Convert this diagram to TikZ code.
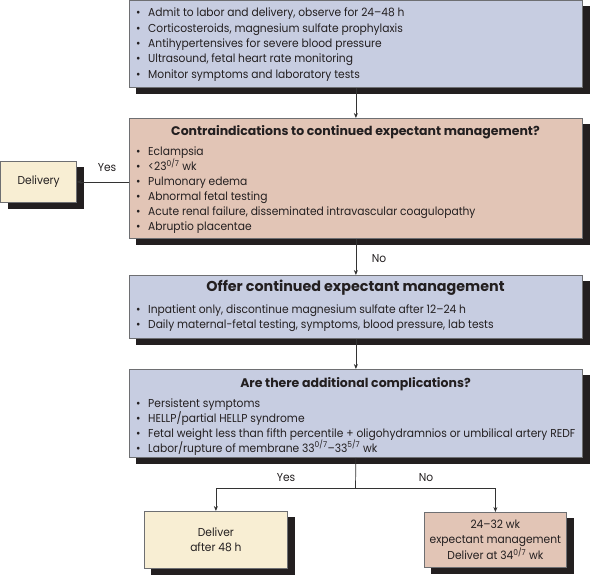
\documentclass[tikz,border=0pt]{standalone}
\usepackage{fontspec}
\setmainfont{Poppins}
\newfontfamily\bodyfont{Poppins}[FakeStretch=0.93]
\usetikzlibrary{arrows.meta,backgrounds}
\definecolor{bluefill}{HTML}{C7CDE1}
\definecolor{salmonfill}{HTML}{E2C5B6}
\definecolor{creamfill}{HTML}{F8EED3}
\definecolor{shadowc}{HTML}{231F20}
\definecolor{edgec}{HTML}{6E6F72}
\definecolor{linec}{HTML}{333333}
\definecolor{textc}{HTML}{231F20}
\tikzset{
  box/.style={draw=edgec, line width=0.8pt, inner sep=0pt, anchor=north west},
  bluebox/.style={box, fill=bluefill},
  salmonbox/.style={box, fill=salmonfill},
  creambox/.style={box, fill=creamfill},
  shadowfill/.style={fill=shadowc},
  txt/.style={anchor=base west, inner sep=0pt, text=textc, font=\bodyfont\fontsize{11.5}{15}\selectfont},
  ttl/.style={anchor=base, inner sep=0pt, text=textc, font=\fontsize{12.5}{15}\selectfont\bfseries},
  lbl/.style={inner sep=0pt, text=textc, font=\bodyfont\fontsize{11.5}{15}\selectfont},
  conn/.style={draw=linec, line width=0.7pt},
  arr/.style={conn, -{Stealth[length=5pt,width=4pt]}},
}
\newcommand{\bul}{\makebox[12pt][l]{•}}
\newcommand{\boxshadow}[1]{\fill[shadowfill] ([shift={(7,6)}]#1.north west) rectangle ([shift={(7,6)}]#1.south east);}
\begin{document}
\begin{tikzpicture}[x=1pt,y=-1pt]
\useasboundingbox (0,0) rectangle (590,575);
% boxes
\node[bluebox, minimum width=453pt, minimum height=86.5pt] (b1) at (129,0.5) {};
\node[salmonbox, minimum width=453pt, minimum height=120pt] (b2) at (129,118) {};
\node[creambox, minimum width=75.5pt, minimum height=41pt, lbl] (del) at (0.5,161) {Delivery};
\node[bluebox, minimum width=453pt, minimum height=63pt] (b3) at (129,275) {};
\node[bluebox, minimum width=453pt, minimum height=88pt] (b4) at (129,369) {};
\node[creambox, minimum width=143pt, minimum height=57pt, lbl, align=center] (dl) at (144,511) {Deliver\\after 48 h};
\node[salmonbox, minimum width=142pt, minimum height=55pt, lbl, align=center] (dr) at (424,512) {24–32 wk\\expectant management\\Deliver at 34\textsuperscript{0/7} wk};
% shadows
\begin{pgfonlayer}{background}
\boxshadow{b1}
\boxshadow{b2}
\boxshadow{del}
\boxshadow{b3}
\boxshadow{b4}
\boxshadow{dl}
\boxshadow{dr}
\end{pgfonlayer}
% box 1 text
\node[txt] (t11) at (136,17) {\bul Admit to labor and delivery, observe for 24–48 h};
\node[txt] (t12) at (136,32.3) {\bul Corticosteroids, magnesium sulfate prophylaxis};
\node[txt] (t13) at (136,47.6) {\bul Antihypertensives for severe blood pressure};
\node[txt] (t14) at (136,62.9) {\bul Ultrasound, fetal heart rate monitoring};
\node[txt] (t15) at (136,78.2) {\bul Monitor symptoms and laboratory tests};
% box 2 text
\node[ttl] (t20) at (355.5,136) {Contraindications to continued expectant management?};
\node[txt] (t21) at (136,156) {\bul Eclampsia};
\node[txt] (t22) at (136,171) {\bul <23\textsuperscript{0/7} wk};
\node[txt] (t23) at (136,186) {\bul Pulmonary edema};
\node[txt] (t24) at (136,201) {\bul Abnormal fetal testing};
\node[txt] (t25) at (136,216) {\bul Acute renal failure, disseminated intravascular coagulopathy};
\node[txt] (t26) at (136,231) {\bul Abruptio placentae};
% box 3 text
\node[ttl, font=\fontsize{14.3}{15}\selectfont\bfseries] (t30) at (355.5,291) {Offer continued expectant management};
\node[txt] (t31) at (136,314) {\bul Inpatient only, discontinue magnesium sulfate after 12–24 h};
\node[txt] (t32) at (136,328) {\bul Daily maternal-fetal testing, symptoms, blood pressure, lab tests};
% box 4 text
\node[ttl] (t40) at (355.5,387) {Are there additional complications?};
\node[txt] (t41) at (136,407) {\bul Persistent symptoms};
\node[txt] (t42) at (136,422) {\bul HELLP/partial HELLP syndrome};
\node[txt] (t43) at (136,437) {\bul Fetal weight less than fifth percentile + oligohydramnios or umbilical artery REDF};
\node[txt] (t44) at (136,452) {\bul Labor/rupture of membrane 33\textsuperscript{0/7}–33\textsuperscript{5/7} wk};
% connectors
\draw[arr] (b1.south) -- (b2.north);
\draw[arr] (b2.west |- del.east) -- (del.east);
\node[lbl] (yes1) at (107,168) {Yes};
\draw[arr] (b2.south) -- (b3.north);
\node[lbl] (no1) at (379,259) {No};
\draw[arr] (b3.south) -- (b4.north);
\coordinate (split) at (355.5,488);
\draw[conn] (b4.south) -- (split);
\draw[arr] (split) -| (dl.north);
\draw[arr] (split) -| (dr.north);
\node[lbl] (yes2) at (286,478) {Yes};
\node[lbl] (no2) at (426,478) {No};
\end{tikzpicture}
\end{document}
